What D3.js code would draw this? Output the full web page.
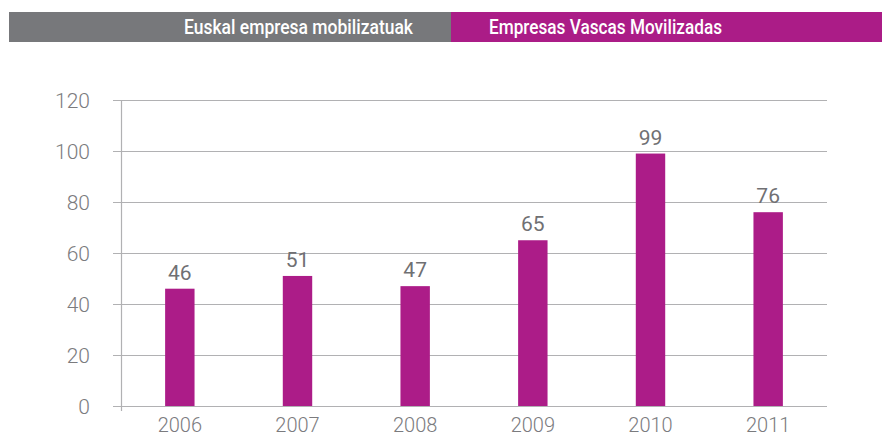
<!DOCTYPE html>
<html>
<head>
<meta charset="utf-8">
<script src="https://cdn.jsdelivr.net/npm/d3@7"></script>
<style>
  body { margin: 0; background: #fff; }
  svg { display: block; }
</style>
</head>
<body>
<div id="chart"></div>
<script>
// data
var years = ["2006", "2007", "2008", "2009", "2010", "2011"];
var empresas = [46, 51, 47, 65, 99, 76];
var yTicks = [0, 20, 40, 60, 80, 100, 120];
var titleEu = "Euskal empresa mobilizatuak";
var titleEs = "Empresas Vascas Movilizadas";

var w = 882,
    h = 437;

var svg = d3.select("#chart").append("svg")
    .attr("width", w)
    .attr("height", h);

// header band
var header = svg.append("g").attr("class", "header");
header.append("rect")
    .attr("x", 9).attr("y", 12)
    .attr("width", 442).attr("height", 30)
    .attr("fill", "#77787b");
header.append("rect")
    .attr("x", 451).attr("y", 12)
    .attr("width", w - 451).attr("height", 30)
    .attr("fill", "#ab1c87");
header.append("text")
    .attr("x", 184).attr("y", 34)
    .attr("textLength", 229)
    .attr("lengthAdjust", "spacingAndGlyphs")
    .style("font-family", "Roboto, sans-serif")
    .style("font-weight", 500)
    .style("font-size", "21px")
    .attr("fill", "#fff")
    .text(titleEu);
header.append("text")
    .attr("x", 489).attr("y", 34)
    .attr("textLength", 233)
    .attr("lengthAdjust", "spacingAndGlyphs")
    .style("font-family", "Roboto, sans-serif")
    .style("font-weight", 500)
    .style("font-size", "21px")
    .attr("fill", "#fff")
    .text(titleEs);

// scales
var x = d3.scaleBand()
    .domain(years)
    .range([121, 827])
    .paddingInner(0.75)
    .paddingOuter(0.375);

var y = d3.scaleLinear()
    .domain([0, 120])
    .range([406, 100]);

// gridlines
svg.append("g")
    .attr("class", "grid")
    .selectAll("line")
    .data(yTicks)
    .enter()
    .append("line")
    .attr("x1", 113)
    .attr("x2", 827)
    .attr("y1", function(d) { return y(d) + 0.5; })
    .attr("y2", function(d) { return y(d) + 0.5; })
    .attr("stroke", "#b1b1b3")
    .attr("stroke-width", 1.2);

// y axis line
svg.append("line")
    .attr("x1", 121.5).attr("x2", 121.5)
    .attr("y1", y(120)).attr("y2", y(0) + 5)
    .attr("stroke", "#b1b1b3")
    .attr("stroke-width", 1.2);

// y tick labels
svg.append("g")
    .selectAll("text")
    .data(yTicks)
    .enter()
    .append("text")
    .attr("x", 90)
    .attr("y", function(d) { return y(d) + 8; })
    .attr("text-anchor", "end")
    .style("font-family", "Roboto, sans-serif")
    .style("font-weight", 300)
    .style("font-size", "21px")
    .attr("fill", "#7b7b7e")
    .text(function(d) { return d; });

// bars
svg.append("g")
    .attr("class", "bars")
    .selectAll("rect")
    .data(empresas)
    .enter()
    .append("rect")
    .attr("x", function(d, i) { return x(years[i]); })
    .attr("width", x.bandwidth())
    .attr("y", function(d) { return y(d); })
    .attr("height", function(d) { return y(0) - y(d); })
    .attr("fill", "#ac1c88");

// value labels
svg.append("g")
    .selectAll("text")
    .data(empresas)
    .enter()
    .append("text")
    .attr("x", function(d, i) { return x(years[i]) + x.bandwidth() / 2; })
    .attr("y", function(d) { return y(d) - 9; })
    .attr("text-anchor", "middle")
    .style("font-family", "Roboto, sans-serif")
    .style("font-weight", 400)
    .style("font-size", "21px")
    .attr("fill", "#707073")
    .text(function(d) { return d; });

// x labels
svg.append("g")
    .selectAll("text")
    .data(years)
    .enter()
    .append("text")
    .attr("x", function(d) { return x(d) + x.bandwidth() / 2; })
    .attr("y", 432)
    .attr("text-anchor", "middle")
    .style("font-family", "Roboto, sans-serif")
    .style("font-weight", 300)
    .style("font-size", "20px")
    .attr("fill", "#7b7b7e")
    .text(function(d) { return d; });
</script>
</body>
</html>
